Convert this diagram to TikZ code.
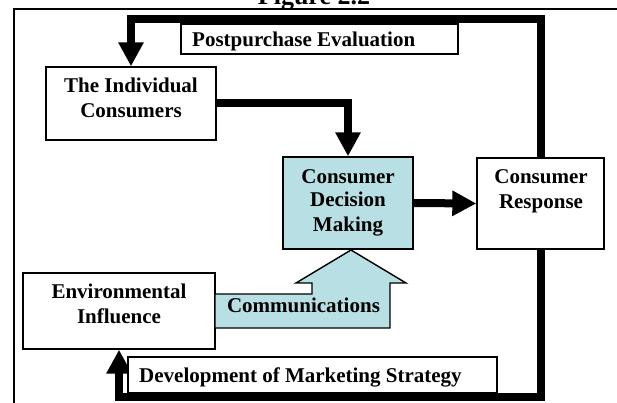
\documentclass[tikz,border=0pt]{standalone}
\usepackage{fontspec}
\setmainfont{Liberation Serif}
\usetikzlibrary{arrows.meta}
\definecolor{paleteal}{RGB}{183,223,228}
\begin{document}
\begin{tikzpicture}[x=1pt,y=-1pt,
  box/.style={draw=black, line width=1.4pt, fill=white, rectangle, inner sep=0pt},
  lbl/.style={font=\fontsize{21}{24}\selectfont\bfseries, inner sep=0pt, anchor=base},
  lblw/.style={lbl, anchor=base west},
  flow/.style={line width=8pt, line join=miter, -{Triangle[width=24pt,length=24pt]}},
  frameline/.style={line width=1.5pt}]
\useasboundingbox (0,0) rectangle (617,403);

% heading, cut by the top edge
\node[font=\fontsize{26}{30}\selectfont\bfseries, inner sep=0pt, anchor=base] (title) at (314,5) {Figure 2.2};

% outer frame
\draw[frameline] (14,403) -- (14,9) -- (617,9);

% boxes (placed first so connectors can refer to them)
\node[box, minimum width=170pt, minimum height=73pt] (ind) at (131,103.5) {};
\node[box, fill=paleteal, minimum width=130pt, minimum height=92pt] (dec) at (348,203) {};
\node[box, minimum width=127pt, minimum height=91pt] (resp) at (540.5,203.5) {};
\node[box, minimum width=192pt, minimum height=76pt] (env) at (119,311) {};

\coordinate (loopTop) at (0,19);
\coordinate (loopBot) at (0,397);

% feedback loops around the model
\draw[flow] (resp.north) |- (ind.north |- loopTop) -- (ind.north);
\draw[flow] (resp.south) |- (env.south |- loopBot) -- (env.south);

% main flow
\draw[flow] (ind.east) -| (dec.north);
\draw[flow] (dec.east) -- (resp.west);

% redraw boxes on top of the loop lines
\node[box, minimum width=170pt, minimum height=73pt] at (ind) {};
\node[box, fill=paleteal, minimum width=130pt, minimum height=92pt] at (dec) {};
\node[box, minimum width=127pt, minimum height=91pt] at (resp) {};
\node[box, minimum width=192pt, minimum height=76pt] at (env) {};

% loop labels
\node[box, minimum width=277pt, minimum height=30pt] (post) at (319.5,39) {};
\node[lblw] (posttxt) at (192,47) {Postpurchase Evaluation};
\node[box, minimum width=369pt, minimum height=36pt] (dev) at (312.5,375) {};
\node[lblw] (devtxt) at (139,382) {Development of Marketing Strategy};

% communications arrow into the decision box
\draw[line width=1.4pt, fill=paleteal, line join=miter]
  (215,294) -- (312,294) -- (312,283) -- (296,283) -- (351,250)
  -- (406,283) -- (390,283) -- (390,328) -- (215,328) -- cycle;
\node[lbl] (comm) at (303.5,312) {Communications};

% box texts
\node[lbl] (ind1) at (131,93) {The Individual};
\node[lbl] (ind2) at (131,118) {Consumers};
\node[lbl] (dec1) at (348,183) {Consumer};
\node[lbl] (dec2) at (348,207) {Decision};
\node[lbl] (dec3) at (348,231) {Making};
\node[lbl] (resp1) at (541,184) {Consumer};
\node[lbl] (resp2) at (541,208) {Response};
\node[lbl] (env1) at (119,298) {Environmental};
\node[lbl] (env2) at (119,323) {Influence};
\end{tikzpicture}
\end{document}
